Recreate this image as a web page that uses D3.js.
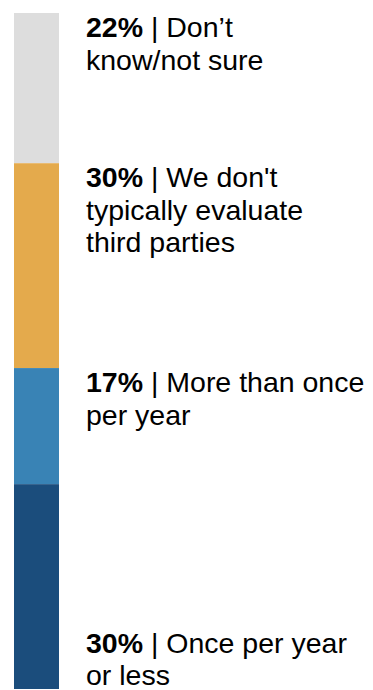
<!DOCTYPE html>
<html>
<head>
<meta charset="utf-8">
<script src="https://cdn.jsdelivr.net/npm/d3@7"></script>
<style>
  html, body { margin: 0; padding: 0; background: #ffffff; }
  svg { display: block; }
</style>
</head>
<body>
<div id="chart"></div>
<script>
// Stacked single-column breakdown, listed top to bottom
const categories = [
  "Don’t know/not sure",
  "We don't typically evaluate third parties",
  "More than once per year",
  "Once per year or less"
];
const values = [22, 30, 17, 30];
const colors = ["#dddddd", "#e4aa4c", "#3983b5", "#1b4d7c"];
// Label text broken into display lines
const labelLines = [
  ["Don’t", "know/not sure"],
  ["We don't", "typically evaluate", "third parties"],
  ["More than once", "per year"],
  ["Once per year", "or less"]
];

const width = 373, height = 690;
const margin = { top: 13, bottom: 1, left: 14 };
const barWidth = 45;
const fontSize = 28.5;
const lineHeight = 32.5;

const svg = d3.select("#chart").append("svg")
  .attr("width", width)
  .attr("height", height);

const total = d3.sum(values);
const y = d3.scaleLinear()
  .domain([0, total])
  .range([margin.top, height - margin.bottom]);

// cumulative starts from the top
const starts = values.map((v, i) => d3.sum(values.slice(0, i)));
const data = categories.map((c, i) => ({
  category: c, value: values[i], start: starts[i], color: colors[i], lines: labelLines[i], index: i
}));

svg.append("g").selectAll("rect")
  .data(data)
  .join("rect")
  .attr("x", margin.left)
  .attr("width", barWidth)
  .attr("y", d => y(d.start))
  .attr("height", d => y(d.start + d.value) - y(d.start))
  .attr("fill", d => d.color);

const labelX = 86;
const labels = svg.append("g")
  .attr("font-family", "'Liberation Sans', Arial, Helvetica, sans-serif")
  .attr("font-size", fontSize)
  .attr("fill", "#000000");

data.forEach((d, i) => {
  const last = i === data.length - 1;
  // top segments: label hangs from segment top; bottom segment: label sits on the bar's base
  const firstBaseline = last
    ? y(d.start + d.value) - 4 - lineHeight * (d.lines.length - 1)
    : y(d.start) + 24;
  const t = labels.append("text")
    .attr("x", labelX)
    .attr("y", firstBaseline);
  d.lines.forEach((line, j) => {
    if (j === 0) {
      t.append("tspan")
        .attr("x", labelX)
        .attr("font-weight", "bold")
        .text(d.value + "%");
      t.append("tspan")
        .text(" | " + line);
    } else {
      t.append("tspan")
        .attr("x", labelX)
        .attr("dy", lineHeight)
        .text(line);
    }
  });
});
</script>
</body>
</html>
